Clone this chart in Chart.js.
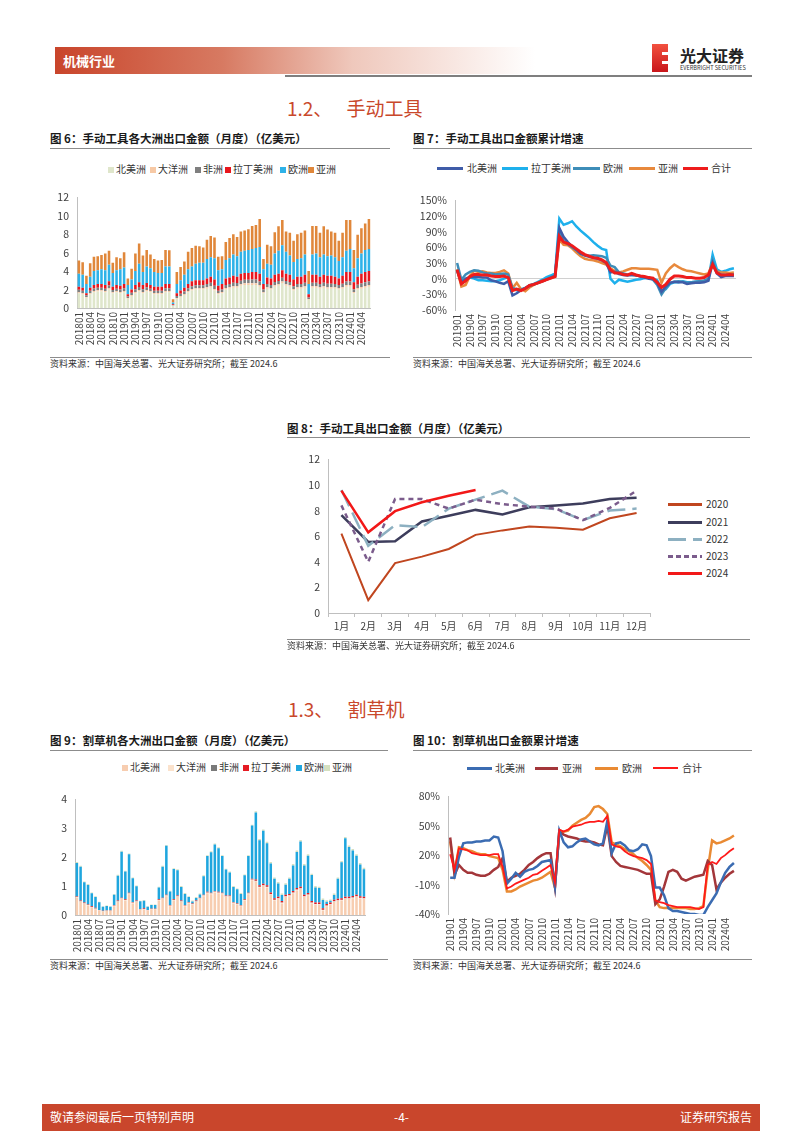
<!DOCTYPE html>
<html lang="zh-CN">
<head>
<meta charset="UTF-8">
<title>机械行业 - 手动工具与割草机出口</title>
<script src="https://cdn.jsdelivr.net/npm/chart.js"></script>
<style>
    body { margin: 0; background: #fff; font-family: 'Noto Sans CJK SC', sans-serif; }
    .page { position: relative; width: 802px; height: 1133px; overflow: hidden; }
    .abs { position: absolute; white-space: nowrap; }
    .fig-title { font-size: 11.5px; font-weight: bold; color: #1a1a1a; line-height: 14px; }
    .rule { position: absolute; height: 1px; background: #8c8c8c; }
    .src { font-size: 9px; color: #333; line-height: 12px; }
    .sec { font-size: 19px; color: #c9482b; line-height: 24px; }
    .lg { font-size: 10px; color: #333; line-height: 12px; }
    .sw { display: inline-block; width: 6px; height: 6px; margin-right: 2px; vertical-align: 0px; }
    .ln { position: absolute; height: 3px; }
    canvas { position: absolute; }
</style>
</head>
<body>
<div class="page">

    <!-- page header -->
    <div class="abs" style="left:55px; top:47px; width:480px; height:27px; background:linear-gradient(to right, #c9452b 0%, #d77a62 35%, #efc8bc 62%, rgba(255,255,255,0) 100%);"></div>
    <div class="abs" style="left:63px; top:53px; font-size:13px; font-weight:bold; color:#fff; line-height:16px;">机械行业</div>
    <div class="abs" style="left:285px; top:75px; width:467px; height:2px; background:#7f7f7f;"></div>
    <div class="abs" style="left:652px; top:44px; width:16px; height:28px; background:linear-gradient(#f2513f, #c8161b);"></div>
    <div class="abs" style="left:662px; top:52px; width:6px; height:3px; background:#fff;"></div>
    <div class="abs" style="left:662px; top:61px; width:6px; height:3px; background:#fff;"></div>
    <div class="abs" style="left:680px; top:46px; font-size:16px; font-weight:bold; color:#222; line-height:18px;">光大证券</div>
    <div class="abs" style="left:680px; top:64px; font-size:5.6px; color:#333; line-height:8px;">EVERBRIGHT SECURITIES</div>

    <!-- section 1.2 -->
    <div class="abs sec" style="left:287px; top:96px;">1.2、<span style="margin-left:14px;">手动工具</span></div>

    <!-- figure 6 -->
    <div class="abs fig-title" style="left:50px; top:131px;">图 6：手动工具各大洲出口金额（月度）（亿美元）</div>
    <div class="rule" style="left:50px; top:148px; width:340px;"></div>
    <div class="abs lg" style="left:108px; top:163px;"><span class="sw" style="background:#dfe6cb"></span>北美洲</div>
    <div class="abs lg" style="left:150px; top:163px;"><span class="sw" style="background:#f7c9a5"></span>大洋洲</div>
    <div class="abs lg" style="left:195px; top:163px;"><span class="sw" style="background:#7f7f7f"></span>非洲</div>
    <div class="abs lg" style="left:225px; top:163px;"><span class="sw" style="background:#e8161d"></span>拉丁美洲</div>
    <div class="abs lg" style="left:280px; top:163px;"><span class="sw" style="background:#2eb2e8"></span>欧洲</div>
    <div class="abs lg" style="left:308px; top:163px;"><span class="sw" style="background:#e0873a"></span>亚洲</div>
    <canvas id="toolByRegion" width="345" height="167" style="left:40px; top:183px; width:345px; height:167px;"></canvas>
    <div class="rule" style="left:50px; top:357px; width:340px;"></div>
    <div class="abs src" style="left:50px; top:358px;">资料来源：中国海关总署、光大证券研究所；截至 2024.6</div>

    <!-- figure 7 -->
    <div class="abs fig-title" style="left:413px; top:131px;">图 7：手动工具出口金额累计增速</div>
    <div class="rule" style="left:413px; top:148px; width:339px;"></div>
    <div class="ln" style="left:437px; top:167px; width:26px; background:#3f5ca8;"></div>
    <div class="abs lg" style="left:467px; top:162px;">北美洲</div>
    <div class="ln" style="left:502px; top:167px; width:26px; background:#1eb0ec;"></div>
    <div class="abs lg" style="left:531px; top:162px;">拉丁美洲</div>
    <div class="ln" style="left:573px; top:167px; width:27px; background:#3d8db8;"></div>
    <div class="abs lg" style="left:603px; top:162px;">欧洲</div>
    <div class="ln" style="left:629px; top:167px; width:26px; background:#e8893c;"></div>
    <div class="abs lg" style="left:658px; top:162px;">亚洲</div>
    <div class="ln" style="left:683px; top:167px; width:25px; background:#ee1c1c;"></div>
    <div class="abs lg" style="left:711px; top:162px;">合计</div>
    <canvas id="toolGrowth" width="345" height="168" style="left:405px; top:186px; width:345px; height:168px;"></canvas>
    <div class="rule" style="left:413px; top:357px; width:339px;"></div>
    <div class="abs src" style="left:413px; top:358px;">资料来源：中国海关总署、光大证券研究所；截至 2024.6</div>

    <!-- figure 8 -->
    <div class="abs fig-title" style="left:287px; top:421px;">图 8：手动工具出口金额（月度）（亿美元）</div>
    <div class="rule" style="left:287px; top:437px; width:463px;"></div>
    <canvas id="toolByYear" width="380" height="195" style="left:280px; top:445px; width:380px; height:195px;"></canvas>
    <div class="ln" style="left:668px; top:503px; width:34px; height:2.5px; background:#c0461f;"></div>
    <div class="abs lg" style="left:706px; top:498px;">2020</div>
    <div class="ln" style="left:668px; top:521px; width:34px; height:2.5px; background:#3d3d5c;"></div>
    <div class="abs lg" style="left:706px; top:516px;">2021</div>
    <div class="ln" style="left:668px; top:538px; width:34px; height:2.5px; background:repeating-linear-gradient(to right, #8db0c1 0 18px, transparent 18px 25px);"></div>
    <div class="abs lg" style="left:706px; top:533px;">2022</div>
    <div class="ln" style="left:668px; top:555px; width:34px; height:2.5px; background:repeating-linear-gradient(to right, #7b5c8c 0 5px, transparent 5px 8px);"></div>
    <div class="abs lg" style="left:706px; top:550px;">2023</div>
    <div class="ln" style="left:668px; top:572px; width:34px; height:2.5px; background:#f21818;"></div>
    <div class="abs lg" style="left:706px; top:567px;">2024</div>
    <div class="rule" style="left:287px; top:639px; width:463px;"></div>
    <div class="abs src" style="left:287px; top:640px;">资料来源：中国海关总署、光大证券研究所；截至 2024.6</div>

    <!-- section 1.3 -->
    <div class="abs sec" style="left:288px; top:697px;">1.3、<span style="margin-left:14px;">割草机</span></div>

    <!-- figure 9 -->
    <div class="abs fig-title" style="left:50px; top:733px;">图 9：割草机各大洲出口金额（月度）（亿美元）</div>
    <div class="rule" style="left:50px; top:750px; width:338px;"></div>
    <div class="abs lg" style="left:122px; top:761px;"><span class="sw" style="background:#f7cdb0"></span>北美洲</div>
    <div class="abs lg" style="left:168px; top:761px;"><span class="sw" style="background:#fbe2cc"></span>大洋洲</div>
    <div class="abs lg" style="left:211px; top:761px;"><span class="sw" style="background:#7a7a7a"></span>非洲</div>
    <div class="abs lg" style="left:243px; top:761px;"><span class="sw" style="background:#e51b23"></span>拉丁美洲</div>
    <div class="abs lg" style="left:296px; top:761px;"><span class="sw" style="background:#1fa6de"></span>欧洲</div>
    <div class="abs lg" style="left:324px; top:761px;"><span class="sw" style="background:#d5e0c0"></span>亚洲</div>
    <canvas id="mowerByRegion" width="340" height="172" style="left:40px; top:785px; width:340px; height:172px;"></canvas>
    <div class="rule" style="left:50px; top:959px; width:338px;"></div>
    <div class="abs src" style="left:50px; top:960px;">资料来源：中国海关总署、光大证券研究所；截至 2024.6</div>

    <!-- figure 10 -->
    <div class="abs fig-title" style="left:413px; top:733px;">图 10：割草机出口金额累计增速</div>
    <div class="rule" style="left:413px; top:750px; width:339px;"></div>
    <div class="ln" style="left:467px; top:767px; width:25px; background:#3b6cb2;"></div>
    <div class="abs lg" style="left:495px; top:762px;">北美洲</div>
    <div class="ln" style="left:535px; top:767px; width:23px; background:#a3363a;"></div>
    <div class="abs lg" style="left:562px; top:762px;">亚洲</div>
    <div class="ln" style="left:595px; top:767px; width:23px; background:#e98a33;"></div>
    <div class="abs lg" style="left:622px; top:762px;">欧洲</div>
    <div class="ln" style="left:653px; top:767px; width:25px; height:2px; background:#ff1a1a;"></div>
    <div class="abs lg" style="left:682px; top:762px;">合计</div>
    <canvas id="mowerGrowth" width="350" height="175" style="left:400px; top:782px; width:350px; height:175px;"></canvas>
    <div class="rule" style="left:413px; top:959px; width:339px;"></div>
    <div class="abs src" style="left:413px; top:960px;">资料来源：中国海关总署、光大证券研究所；截至 2024.6</div>

    <!-- page footer -->
    <div class="abs" style="left:42px; top:1104px; width:718px; height:27px; background:#c9462c;"></div>
    <div class="abs" style="left:50px; top:1109px; font-size:12px; color:#fff; line-height:16px;">敬请参阅最后一页特别声明</div>
    <div class="abs" style="left:394px; top:1109px; font-size:12px; color:#fff; line-height:16px;">-4-</div>
    <div class="abs" style="left:680px; top:1109px; width:72px; text-align:right; font-size:12px; color:#fff; line-height:16px;">证券研究报告</div>
</div>

<script>
// month labels (yyyymm)
function monthLabels(startYear, count) {
    const out = [];
    for (let i = 0; i < count; i++) {
        const y = startYear + Math.floor(i / 12);
        const m = i % 12 + 1;
        out.push(y + String(m).padStart(2, '0'));
    }
    return out;
}

const months2018 = monthLabels(2018, 78);   // 201801 - 202406
const months2019 = monthLabels(2019, 66);   // 201901 - 202406
const monthsCN = ['1月', '2月', '3月', '4月', '5月', '6月', '7月', '8月', '9月', '10月', '11月', '12月'];

// Fig 6: hand tools export by region, 100m USD
const toolNorthAmerica = [
    1.6,1.5,1.1,1.5,1.7,1.8,1.8,1.7,2.0,1.6,1.7,1.6,
    1.7,1.0,1.3,1.6,1.8,1.6,1.8,1.7,1.5,1.5,1.5,1.7,
    1.7,0.25,1.0,1.2,1.4,1.7,1.9,2.0,2.0,2.0,2.1,2.2,
    1.9,1.5,1.6,2.0,2.1,2.2,2.2,2.4,2.5,2.5,2.5,2.5,
    2.3,1.6,2.1,2.0,2.3,2.4,2.7,2.4,2.3,1.9,2.1,2.1,
    2.2,0.9,2.2,2.2,2.1,2.2,2.1,2.1,2.1,2.0,2.1,2.3,
    2.3,1.6,2.0,2.1,2.2,2.3];
const toolOceania = [
    .12,.12,.09,.11,.13,.13,.13,.13,.14,.12,.13,.13,
    .13,.08,.11,.13,.15,.13,.14,.13,.12,.12,.12,.14,
    .14,.02,.09,.10,.12,.14,.15,.15,.15,.15,.16,.17,
    .16,.12,.13,.16,.16,.17,.16,.17,.17,.17,.18,.18,
    .18,.12,.15,.15,.16,.17,.18,.17,.16,.15,.16,.16,
    .17,.08,.17,.17,.16,.17,.16,.16,.16,.15,.16,.18,
    .18,.13,.16,.17,.18,.18];
const toolAfrica = [
    .25,.24,.18,.25,.28,.27,.27,.27,.30,.24,.27,.27,
    .30,.17,.24,.30,.32,.29,.30,.27,.26,.26,.26,.30,
    .30,.05,.21,.24,.27,.30,.32,.32,.32,.31,.34,.36,
    .35,.26,.28,.34,.35,.37,.35,.38,.38,.38,.40,.40,
    .40,.28,.34,.34,.36,.37,.40,.37,.36,.32,.35,.35,
    .37,.17,.37,.37,.35,.37,.36,.36,.35,.33,.36,.40,
    .40,.30,.36,.38,.40,.40];
const toolLatinAmerica = [
    .33,.34,.23,.34,.39,.40,.40,.40,.46,.34,.40,.40,
    .47,.25,.35,.47,.53,.48,.46,.40,.42,.42,.42,.46,
    .46,.08,.30,.36,.41,.46,.53,.53,.53,.54,.60,.67,
    .69,.52,.59,.70,.69,.76,.69,.75,.75,.75,.82,.82,
    .82,.60,.71,.71,.78,.76,.82,.76,.78,.73,.79,.79,
    .86,.35,.86,.86,.79,.86,.88,.88,.79,.72,.88,1.02,
    1.02,.77,.88,1.05,1.12,1.12];
const toolEurope = [
    1.4,1.4,1.0,1.2,1.5,1.5,1.6,1.6,1.8,1.5,1.6,1.8,
    1.8,1.0,1.1,1.5,2.0,1.4,1.8,1.8,1.6,1.5,1.5,1.9,
    1.9,0.2,1.0,1.1,1.4,1.6,1.6,1.8,1.9,1.9,2.1,2.1,
    2.3,1.7,1.6,2.0,2.1,2.3,2.2,2.4,2.4,2.5,2.5,2.6,
    2.9,1.6,1.5,1.5,2.3,2.5,2.7,2.4,2.1,1.9,1.9,2.0,
    2.2,1.1,2.2,2.3,2.1,2.2,2.1,2.2,2.1,1.9,2.0,2.3,
    2.5,1.5,2.0,2.2,2.4,2.4];
const toolAsia = [
    1.45,1.35,0.9,1.45,1.55,1.5,1.55,1.8,1.5,1.1,1.4,1.2,
    1.65,0.7,1.15,1.9,2.2,1.8,1.8,1.5,1.4,1.35,1.4,1.8,
    1.75,0.35,1.3,1.45,1.45,1.9,2.0,1.95,1.8,1.65,2.1,2.3,
    2.25,1.45,1.4,1.95,2.2,2.2,2.1,2.2,2.2,2.25,2.5,2.5,
    3.05,1.1,2.05,2.0,2.3,2.65,2.75,2.2,2.45,2.3,2.7,2.75,
    2.6,1.4,3.1,3.0,2.65,3.05,2.9,2.6,2.65,2.2,2.65,3.35,
    3.15,2.0,2.55,2.75,2.85,3.25];

// Fig 7: hand tools cumulative export growth, %
const toolGrowthNorthAmerica = [
    15,-8,0,3,3,3,2,2,-3,-5,-8,-10,
    -5,-32,-28,-22,-18,-13,-11,-8,-5,-2,2,5,
    97,80,70,62,55,48,44,42,40,38,35,30,
    12,13,9,7,6,7,7,4,2,0,-1,-8,
    -25,-15,-8,-6,-7,-7,-10,-9,-8,-8,-7,-4,
    30,10,3,5,5,5];
const toolGrowthLatinAmerica = [
    18,-5,-3,2,0,-3,-3,-4,-5,-5,-3,0,
    3,-20,-22,-20,-18,-13,-10,-6,-2,3,6,10,
    115,103,106,110,100,92,85,78,70,63,57,55,
    0,-9,-2,-4,-6,-4,-2,-1,1,2,0,-3,
    -23,-20,-10,-7,-7,-5,-7,-7,-6,-5,-4,-3,
    46,18,13,15,18,20];
const toolGrowthEurope = [
    30,-2,8,13,16,15,12,10,10,8,9,10,
    8,-18,-20,-22,-18,-14,-11,-8,-4,-1,3,6,
    90,72,66,60,55,48,45,44,45,44,43,40,
    25,22,12,10,8,7,6,5,3,1,-2,-12,
    -30,-18,-8,-6,-5,-6,-8,-7,-6,-5,-4,0,
    35,12,8,7,8,8];
const toolGrowthAsia = [
    18,-15,-12,5,15,13,14,12,11,11,13,16,
    10,-18,-8,-20,-24,-17,-12,-8,-5,-2,1,4,
    75,65,64,58,50,43,38,36,35,33,30,27,
    20,15,12,14,17,20,20,19,19,19,18,17,
    -8,10,20,27,22,18,15,14,12,10,8,10,
    30,14,12,12,11,12];
const toolGrowthTotal = [
    17,-10,-4,4,8,8,7,7,5,4,4,5,
    2,-23,-20,-23,-19,-13,-11,-8,-5,-2,1,4,
    81,70,67,63,57,51,46,43,40,39,36,31,
    17,11,11,8,7,10,7,5,4,2,1,-7,
    -17,-11,-1,5,5,4,2,2,1,1,2,7,
    27,11,7,7,8,7];

// Fig 8: hand tools monthly export by year, 100m USD
const tools2020 = [6.2, 1.0, 3.9, 4.4, 5.0, 6.1, 6.45, 6.75, 6.65, 6.5, 7.4, 7.8];
const tools2021 = [7.65, 5.55, 5.6, 7.15, 7.6, 8.05, 7.7, 8.25, 8.4, 8.55, 8.9, 9.0];
const tools2022 = [9.6, 5.25, 6.85, 6.7, 8.15, 8.85, 9.55, 8.3, 8.1, 7.25, 8.0, 8.15];
const tools2023 = [8.4, 4.0, 8.9, 8.9, 8.15, 8.85, 8.5, 8.3, 8.15, 7.25, 8.2, 9.55];
const tools2024 = [9.55, 6.3, 7.95, 8.65, 9.15, 9.6];

// Fig 9: lawn mower export by region, 100m USD
const mowerNorthAmerica = [
    .6,.45,.38,.33,.25,.2,.15,.12,.14,.14,.3,.45,
    .55,.5,.72,.4,.45,.18,.18,.15,.2,.2,.5,.55,
    .65,.3,.5,.62,.45,.3,.4,.35,.45,.55,.65,.75,
    .72,.78,.75,.72,.62,.62,.4,.36,.3,.5,.72,1.2,
    1.15,.95,1.0,.95,.7,.5,.55,.4,.62,.65,.75,.85,
    .9,.62,.68,.4,.35,.35,.15,.3,.35,.45,.48,.5,
    .55,.55,.58,.62,.57,.55];
const mowerOceania = [
    .02,.02,.02,.02,.02,.02,.01,.01,.01,.01,.02,.02,
    .02,.02,.02,.02,.02,.01,.02,.01,.01,.01,.02,.02,
    .02,.02,.02,.02,.02,.02,.02,.02,.02,.02,.02,.02,
    .02,.02,.02,.02,.02,.02,.02,.02,.02,.02,.02,.02,
    .02,.02,.02,.02,.02,.02,.02,.02,.02,.02,.02,.02,
    .02,.02,.02,.02,.02,.02,.02,.02,.02,.02,.02,.02,
    .02,.02,.02,.02,.02,.02];
const mowerAfrica = [
    .01,.01,.01,.01,.01,.01,.005,.005,.005,.005,.01,.01,
    .01,.01,.01,.01,.01,.005,.01,.005,.005,.005,.01,.01,
    .01,.01,.01,.01,.01,.01,.01,.01,.01,.01,.01,.01,
    .01,.01,.01,.01,.01,.01,.01,.01,.01,.01,.01,.01,
    .01,.01,.01,.01,.01,.01,.01,.01,.01,.01,.01,.01,
    .01,.01,.01,.01,.01,.01,.01,.01,.01,.01,.01,.01,
    .01,.01,.01,.01,.01,.01];
const mowerLatinAmerica = [
    .02,.02,.02,.02,.02,.02,.01,.01,.01,.01,.02,.02,
    .02,.02,.02,.02,.02,.01,.02,.01,.01,.01,.02,.02,
    .02,.02,.02,.02,.02,.02,.02,.02,.02,.02,.02,.02,
    .02,.02,.02,.02,.02,.02,.02,.02,.02,.02,.02,.02,
    .05,.05,.05,.05,.05,.05,.05,.05,.05,.05,.05,.05,
    .05,.05,.05,.05,.05,.05,.05,.05,.05,.05,.05,.05,
    .05,.05,.05,.05,.05,.05];
const mowerEurope = [
    1.15,1.17,.70,.66,.45,.37,.27,.14,.15,.12,.35,.86,
    1.59,.95,1.33,.82,.49,.27,.26,.11,.12,.12,.40,1.07,
    1.69,.46,1.04,.88,.47,.38,.17,.07,.09,.11,.64,1.24,
    1.40,1.61,1.51,1.27,.90,.80,.52,.48,.38,.82,1.27,1.84,
    2.31,1.55,1.83,1.45,1.0,.67,.46,.21,.35,.52,.88,1.25,
    1.56,1.01,1.29,.9,.52,.50,.29,.08,.06,.16,.69,1.24,
    2.02,1.72,1.57,1.35,1.10,.95];
const mowerAsia = [
    .03,.03,.03,.03,.03,.03,.015,.015,.015,.015,.03,.03,
    .03,.03,.03,.03,.03,.015,.03,.015,.015,.015,.03,.03,
    .03,.03,.03,.03,.03,.03,.03,.03,.03,.03,.03,.03,
    .03,.03,.03,.03,.03,.03,.03,.03,.03,.03,.03,.03,
    .05,.05,.05,.05,.05,.05,.05,.05,.05,.05,.05,.05,
    .05,.05,.05,.05,.05,.05,.05,.05,.05,.05,.05,.05,
    .05,.05,.05,.05,.05,.05];

// Fig 10: lawn mower cumulative export growth, %
const mowerGrowthNorthAmerica = [
    -3,-3,18,32,33,33,34,34,35,35,39,38,
    24,-9,-4,2,-2,3,5,6,9,13,14,15,
    -12,45,33,28,29,33,36,37,34,31,30,32,
    55,22,32,33,30,25,24,26,31,30,19,-13,
    -13,-21,-34,-37,-37,-38,-39,-40,-40,-41,-41,-33,
    -26,-19,-8,2,8,12];
const mowerGrowthAsia = [
    38,0,10,5,2,2,0,-1,-1,1,5,8,
    17,-7,-3,-1,1,5,10,13,17,20,22,22,
    -12,44,41,39,38,37,35,34,34,33,31,30,
    50,19,13,9,8,7,6,5,3,1,1,-30,
    -25,-12,3,5,3,-4,-6,-4,-2,-1,0,14,
    10,-15,-8,-3,1,4];
const mowerGrowthEurope = [
    34,2,28,27,25,24,22,21,21,19,18,17,
    5,-17,-17,-15,-12,-10,-8,-6,-5,-3,0,3,
    -13,45,44,45,50,53,56,58,62,69,70,67,
    62,33,31,29,26,24,21,17,14,10,5,-26,
    -33,-34,-34,-34,-34,-34,-34,-35,-35,-34,-32,5,
    35,32,33,35,37,40];
const mowerGrowthTotal = [
    21,5,27,26,25,22,21,20,20,20,21,21,
    8,-14,-12,-9,-7,-5,-3,0,1,4,7,10,
    -8,46,44,46,49,50,51,53,54,54,55,54,
    60,31,29,28,24,21,19,18,17,15,11,-26,
    -28,-29,-31,-32,-33,-33,-33,-33,-34,-35,-33,10,
    13,11,17,20,24,27];

Chart.defaults.font.family = "'Noto Sans CJK SC', sans-serif";
Chart.defaults.color = '#404040';
Chart.defaults.animation = false;

const AXIS_GRAY = '#bfbfbf';
const noPlugins = { legend: { display: false }, tooltip: { enabled: false } };

// x axis with vertical yyyymm labels, one every 3 months
function monthAxis(height, extra) {
    return Object.assign({
        grid: { display: false, drawTicks: false },
        border: { color: AXIS_GRAY },
        ticks: {
            autoSkip: false, minRotation: 90, maxRotation: 90, padding: 4,
            font: { size: 10 },
            callback: function (value, index) {
                return index % 3 === 0 ? this.getLabelForValue(value) : '';
            }
        },
        afterFit: function (scale) { scale.height = height; }
    }, extra || {});
}

function valueAxis(width, min, max, step, suffix, zeroColor, extra) {
    return Object.assign({
        min: min, max: max,
        ticks: { stepSize: step, padding: 8, font: { size: 10.5 }, callback: v => v + suffix },
        grid: zeroColor
            ? { drawTicks: false, color: c => (c.tick && c.tick.value === 0) ? zeroColor : 'rgba(0,0,0,0)' }
            : { display: false, drawTicks: false },
        border: { color: AXIS_GRAY },
        afterFit: function (scale) { scale.width = width; }
    }, extra || {});
}

function line(label, data, color, width, extra) {
    return Object.assign({ label: label, data: data, borderColor: color, borderWidth: width,
        pointRadius: 0, tension: 0, fill: false }, extra || {});
}

// Fig 6
new Chart(document.getElementById('toolByRegion'), {
    type: 'bar',
    data: {
        labels: months2018,
        datasets: [
            { label: '北美洲', data: toolNorthAmerica, backgroundColor: '#dfe6cb' },
            { label: '大洋洲', data: toolOceania, backgroundColor: '#f7c9a5' },
            { label: '非洲', data: toolAfrica, backgroundColor: '#7f7f7f' },
            { label: '拉丁美洲', data: toolLatinAmerica, backgroundColor: '#e8161d' },
            { label: '欧洲', data: toolEurope, backgroundColor: '#2eb2e8' },
            { label: '亚洲', data: toolAsia, backgroundColor: '#e0873a' }
        ]
    },
    options: {
        responsive: false,
        layout: { padding: { top: 7, right: 9, left: 0, bottom: 0 } },
        plugins: noPlugins,
        datasets: { bar: { barPercentage: 0.68, categoryPercentage: 1, borderWidth: 0 } },
        scales: {
            x: monthAxis(42, { stacked: true }),
            y: valueAxis(37, 0, 12, 2, '', null, { stacked: true })
        }
    }
});

// Fig 7
new Chart(document.getElementById('toolGrowth'), {
    type: 'line',
    data: {
        labels: months2019,
        datasets: [
            line('合计', toolGrowthTotal, '#ee1c1c', 3),
            line('北美洲', toolGrowthNorthAmerica, '#3f5ca8', 2.5),
            line('欧洲', toolGrowthEurope, '#3d8db8', 2.5),
            line('亚洲', toolGrowthAsia, '#e8893c', 2.5),
            line('拉丁美洲', toolGrowthLatinAmerica, '#1eb0ec', 2.5)
        ]
    },
    options: {
        responsive: false,
        layout: { padding: { top: 8, right: 12, left: 0, bottom: 0 } },
        plugins: noPlugins,
        scales: {
            x: monthAxis(44, { offset: true, border: { display: false } }),
            y: valueAxis(50, -60, 150, 30, '%', '#d0d0d0')
        }
    }
});

// Fig 8
new Chart(document.getElementById('toolByYear'), {
    type: 'line',
    data: {
        labels: monthsCN,
        datasets: [
            line('2024', tools2024, '#f21818', 2.5),
            line('2023', tools2023, '#7b5c8c', 2.5, { borderDash: [5, 4] }),
            line('2022', tools2022, '#8db0c1', 2.5, { borderDash: [18, 7] }),
            line('2021', tools2021, '#3d3d5c', 2.5),
            line('2020', tools2020, '#c0461f', 2)
        ]
    },
    options: {
        responsive: false,
        layout: { padding: { top: 8, right: 10, left: 0, bottom: 0 } },
        plugins: noPlugins,
        scales: {
            x: {
                offset: true,
                grid: { display: true, offset: true, drawOnChartArea: false, drawTicks: true, tickLength: 4, color: AXIS_GRAY },
                border: { color: AXIS_GRAY },
                ticks: { maxRotation: 0, padding: 3, font: { size: 10 } },
                afterFit: function (scale) { scale.height = 27; }
            },
            y: valueAxis(48, 0, 12, 2, '')
        }
    }
});

// Fig 9
new Chart(document.getElementById('mowerByRegion'), {
    type: 'bar',
    data: {
        labels: months2018,
        datasets: [
            { label: '北美洲', data: mowerNorthAmerica, backgroundColor: '#f7cdb0' },
            { label: '大洋洲', data: mowerOceania, backgroundColor: '#fbe2cc' },
            { label: '非洲', data: mowerAfrica, backgroundColor: '#7a7a7a' },
            { label: '拉丁美洲', data: mowerLatinAmerica, backgroundColor: '#e51b23' },
            { label: '欧洲', data: mowerEurope, backgroundColor: '#1fa6de' },
            { label: '亚洲', data: mowerAsia, backgroundColor: '#d5e0c0' }
        ]
    },
    options: {
        responsive: false,
        layout: { padding: { top: 8, right: 6, left: 0, bottom: 0 } },
        plugins: noPlugins,
        datasets: { bar: { barPercentage: 0.68, categoryPercentage: 1, borderWidth: 0 } },
        scales: {
            x: monthAxis(42, { stacked: true }),
            y: valueAxis(35, 0, 4, 1, '', null, { stacked: true })
        }
    }
});

// Fig 10
new Chart(document.getElementById('mowerGrowth'), {
    type: 'line',
    data: {
        labels: months2019,
        datasets: [
            line('合计', mowerGrowthTotal, '#ff1a1a', 1.8),
            line('北美洲', mowerGrowthNorthAmerica, '#3b6cb2', 2.5),
            line('亚洲', mowerGrowthAsia, '#a3363a', 2.5),
            line('欧洲', mowerGrowthEurope, '#e98a33', 2.5)
        ]
    },
    options: {
        responsive: false,
        layout: { padding: { top: 9, right: 11, left: 0, bottom: 0 } },
        plugins: noPlugins,
        scales: {
            x: monthAxis(43, { offset: true, border: { display: false } }),
            y: valueAxis(48, -40, 80, 30, '%', '#808080')
        }
    }
});
</script>
</body>
</html>
